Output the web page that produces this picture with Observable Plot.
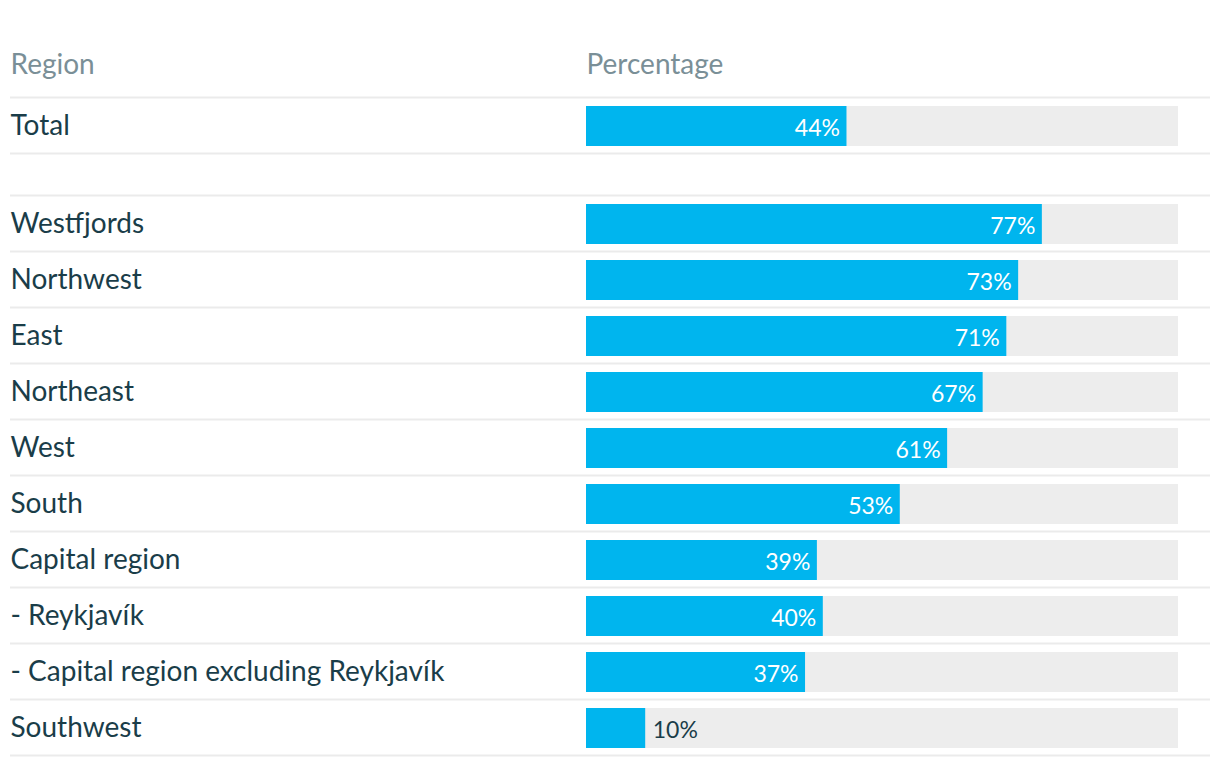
<!DOCTYPE html>
<html>
<head>
<meta charset="utf-8">
<script src="https://cdn.jsdelivr.net/npm/d3@7"></script>
<script src="https://cdn.jsdelivr.net/npm/@observablehq/plot@0.6"></script>
<style>
  html, body { margin: 0; padding: 0; background: #ffffff; }
  #chart svg { display: block; }
</style>
</head>
<body>
<div id="chart"></div>
<script>
// Data
const regions = [
  "Total",
  "Westfjords",
  "Northwest",
  "East",
  "Northeast",
  "West",
  "South",
  "Capital region",
  "- Reykjavík",
  "- Capital region excluding Reykjavík",
  "Southwest"
];
const values = [44, 77, 73, 71, 67, 61, 53, 39, 40, 37, 10];
const groups = ["total", "region", "region", "region", "region", "region", "region", "region", "region", "region", "region"];
const headers = ["Region", "Percentage"];

// Layout constants
const W = 1220, H = 766;
const rowH = 56;
const firstCenter = 125;
const groupGap = 0.75; // in rows

// Row slots (row index units)
let slot = 0;
const rows = regions.map((r, i) => {
  if (i > 0) slot += 1 + (groups[i] !== groups[i - 1] ? groupGap : 0);
  return {region: r, value: values[i], slot};
});
const headerSlot = -61 / rowH;

// separators: top & bottom of each row (deduplicated)
const sepSet = new Set();
rows.forEach(d => { sepSet.add(+(d.slot - 0.5).toFixed(4)); sepSet.add(+(d.slot + 0.5).toFixed(4)); });
const seps = [...sepSet];

const textColor = "#1a3d49";
const headColor = "#7a8f97";
const barColor = "#00b5ee";
const trackColor = "#ededed";
const sepColor = "#ebebeb";

const chart = Plot.plot({
  width: W,
  height: H,
  marginLeft: 10,
  marginRight: 10,
  marginTop: 0,
  marginBottom: 0,
  style: {fontFamily: "Lato, 'Noto Sans', sans-serif", background: "#ffffff", overflow: "visible"},
  x: {domain: [0, 100], range: [586, 1178], axis: null},
  y: {domain: [-firstCenter / rowH, (H - firstCenter) / rowH], range: [0, H], axis: null},
  marks: [
    Plot.ruleY(seps, {y: d => d, stroke: sepColor, strokeWidth: 2}),
    Plot.rectX(rows, {x1: 0, x2: 100, y1: d => d.slot - 0.5, y2: d => d.slot + 0.5, insetTop: 9, insetBottom: 7, fill: trackColor}),
    Plot.rectX(rows, {x1: 0, x2: "value", y1: d => d.slot - 0.5, y2: d => d.slot + 0.5, insetTop: 9, insetBottom: 7, fill: barColor}),
    Plot.text(rows, {y: "slot", frameAnchor: "left", text: "region", textAnchor: "start", dx: 0, dy: 1, fill: textColor, fontSize: 28}),
    Plot.text(rows.filter(d => d.value >= 20), {x: "value", y: "slot", text: d => d.value + "%", textAnchor: "end", dx: -7, dy: 3, fill: "#ffffff", fontSize: 23}),
    Plot.text(rows.filter(d => d.value < 20), {x: "value", y: "slot", text: d => d.value + "%", textAnchor: "start", dx: 7, dy: 3, fill: textColor, fontSize: 23}),
    Plot.text([headers[0]], {y: headerSlot, frameAnchor: "left", text: d => d, textAnchor: "start", dx: 0, dy: 1, fill: headColor, fontSize: 28}),
    Plot.text([headers[1]], {x: 0, y: headerSlot, text: d => d, textAnchor: "start", dx: 0, dy: 1, fill: headColor, fontSize: 28})
  ]
});
document.getElementById("chart").appendChild(chart);
</script>
</body>
</html>
